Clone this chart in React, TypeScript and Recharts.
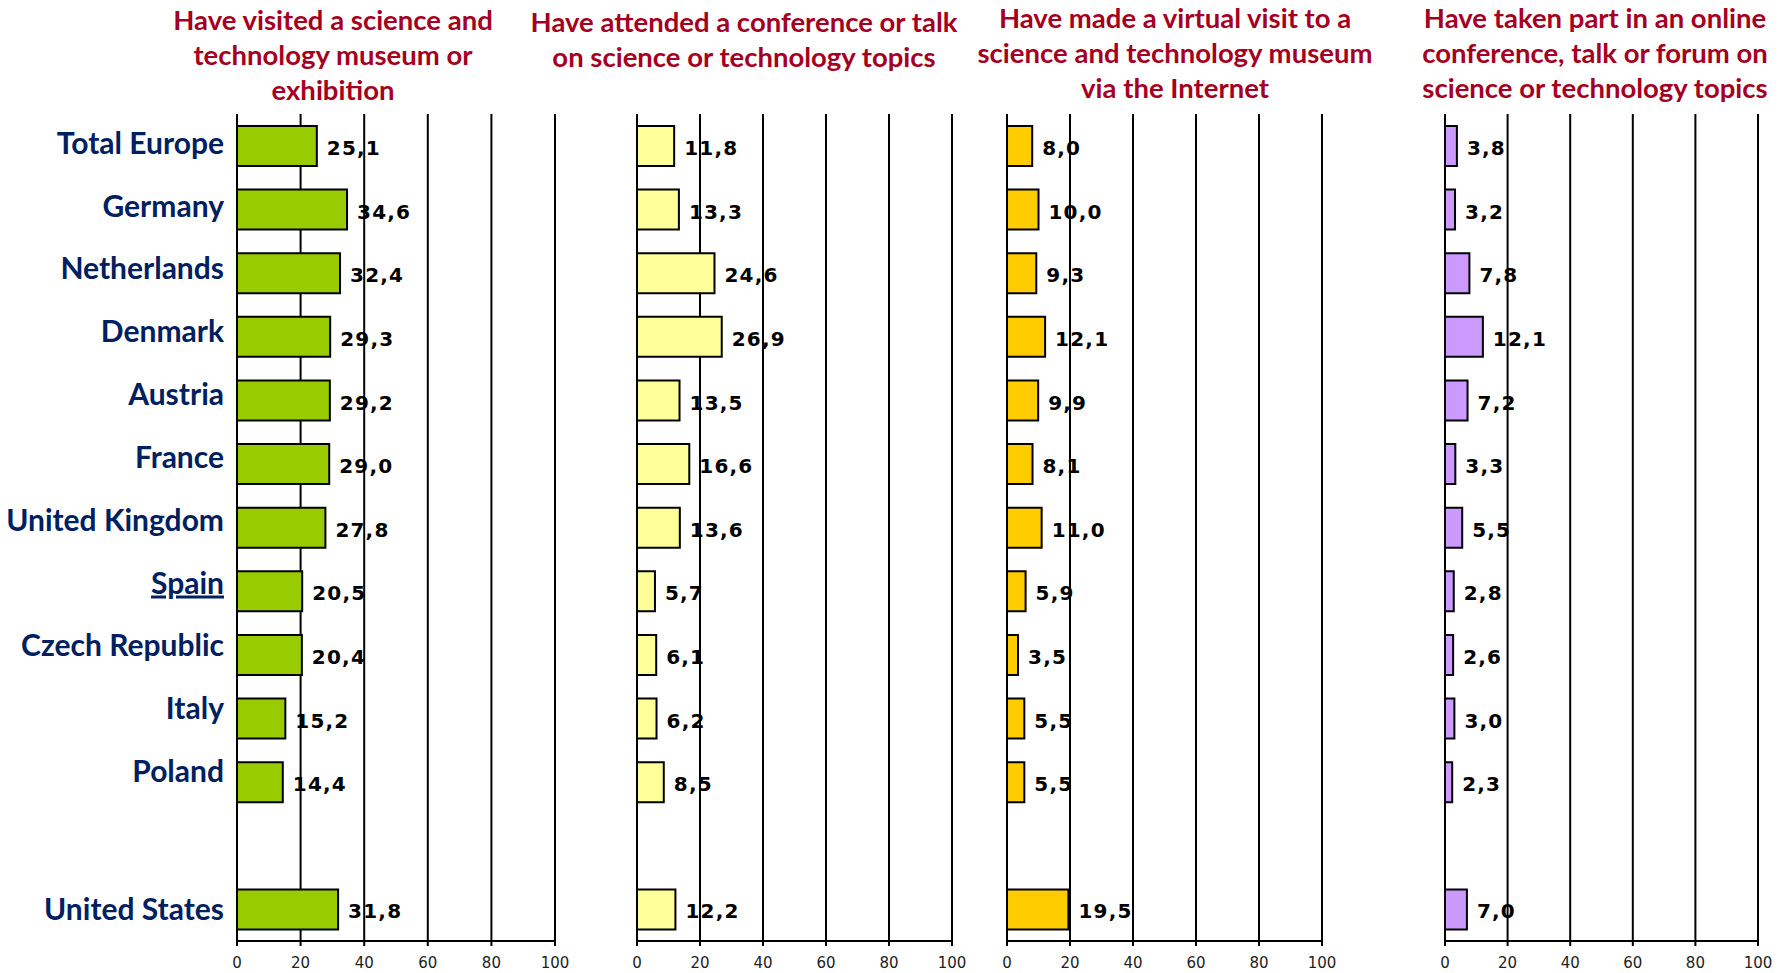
import React from 'react';
import { Bar, BarChart, CartesianGrid, LabelList, XAxis, YAxis } from 'recharts';

// rows top to bottom; the empty entry is the gap above United States
const countries = [
  'Total Europe',
  'Germany',
  'Netherlands',
  'Denmark',
  'Austria',
  'France',
  'United Kingdom',
  'Spain',
  'Czech Republic',
  'Italy',
  'Poland',
  '',
  'United States',
];

const visitedMuseum = [25.1, 34.6, 32.4, 29.3, 29.2, 29.0, 27.8, 20.5, 20.4, 15.2, 14.4, null, 31.8];
const attendedTalk = [11.8, 13.3, 24.6, 26.9, 13.5, 16.6, 13.6, 5.7, 6.1, 6.2, 8.5, null, 12.2];
const virtualVisit = [8.0, 10.0, 9.3, 12.1, 9.9, 8.1, 11.0, 5.9, 3.5, 5.5, 5.5, null, 19.5];
const onlineForum = [3.8, 3.2, 7.8, 12.1, 7.2, 3.3, 5.5, 2.8, 2.6, 3.0, 2.3, null, 7.0];

const xTicks = [0, 20, 40, 60, 80, 100];

const panels = [
  {
    title: ['Have visited a science and', 'technology museum or', 'exhibition'],
    values: visitedMuseum,
    color: '#99CC00',
    left: 0,
    width: 600,
    margin: { top: 114, right: 45, bottom: 2, left: 0 },
    titleX: 333,
    titleTop: 2,
    showNames: true,
  },
  {
    title: ['Have attended a conference or talk', 'on science or technology topics'],
    values: attendedTalk,
    color: '#FFFF99',
    left: 600,
    width: 400,
    margin: { top: 114, right: 48, bottom: 2, left: 37 },
    titleX: 744,
    titleTop: 4,
    showNames: false,
  },
  {
    title: ['Have made a virtual visit to a', 'science and technology museum', 'via the Internet'],
    values: virtualVisit,
    color: '#FFCC00',
    left: 1000,
    width: 370,
    margin: { top: 114, right: 48, bottom: 2, left: 7 },
    titleX: 1175,
    titleTop: 0,
    showNames: false,
  },
  {
    title: ['Have taken part in an online', 'conference, talk or forum on', 'science or technology topics'],
    values: onlineForum,
    color: '#CC99FF',
    left: 1400,
    width: 390,
    margin: { top: 114, right: 32, bottom: 2, left: 45 },
    titleX: 1595,
    titleTop: 0,
    showNames: false,
  },
];

const fmt = (v: any) => (v == null ? '' : Number(v).toFixed(1).replace('.', ','));

// the original's country names creep slightly upward row by row; US sits on its bar
function CountryTick(props: any) {
  const { x, y, payload, index } = props;
  const name = payload.value;
  const i = typeof index === 'number' ? index : payload.index ?? 0;
  const dy = name === 'United States' ? 11 : 8 - 0.8 * i;
  return (
    <text
      x={x}
      y={y}
      dy={dy}
      textAnchor="end"
      fill="#002060"
      fontFamily="Lato, sans-serif"
      fontWeight={700}
      fontSize={30}
      textDecoration={name === 'Spain' ? 'underline' : undefined}
    >
      {name}
    </text>
  );
}

export default function App() {
  return (
    <div
      style={{
        position: 'absolute',
        left: 0,
        top: 0,
        width: 1790,
        height: 973,
        background: '#fff',
      }}
    >
      {panels.map((p, i) => {
        const data = countries.map((country, k) => ({ country, value: p.values[k] }));
        return (
          <React.Fragment key={i}>
            <div
              style={{
                position: 'absolute',
                left: p.titleX - 260,
                top: p.titleTop,
                width: 520,
                textAlign: 'center',
                fontFamily: 'Lato, sans-serif',
                fontWeight: 700,
                fontSize: 27.5,
                lineHeight: '35px',
                color: '#A50021',
                whiteSpace: 'nowrap',
              }}
            >
              {p.title.map((line) => (
                <div key={line}>{line}</div>
              ))}
            </div>
            <div style={{ position: 'absolute', left: p.left, top: 0 }}>
              <BarChart
                width={p.width}
                height={973}
                data={data}
                layout="vertical"
                margin={p.margin}
              >
                <CartesianGrid
                  horizontal={false}
                  vertical={true}
                  stroke="#000"
                  strokeWidth={2}
                />
                <XAxis
                  type="number"
                  domain={[0, 100]}
                  ticks={xTicks}
                  interval={0}
                  height={30}
                  axisLine={{ stroke: '#000', strokeWidth: 2 }}
                  tickLine={{ stroke: '#000', strokeWidth: 2 }}
                  tickSize={5}
                  tickMargin={11}
                  tick={{ fill: '#222', fontSize: 15, fontFamily: 'DejaVu Sans, sans-serif' }}
                />
                <YAxis
                  type="category"
                  dataKey="country"
                  hide={!p.showNames}
                  width={237}
                  interval={0}
                  axisLine={{ stroke: '#000', strokeWidth: 2 }}
                  tickLine={false}
                  tickSize={0}
                  tickMargin={13}
                  tick={<CountryTick />}
                />
                <Bar
                  dataKey="value"
                  fill={p.color}
                  stroke="#000"
                  strokeWidth={2}
                  barSize={40}
                  isAnimationActive={false}
                >
                  <LabelList
                    dataKey="value"
                    position="right"
                    offset={10}
                    formatter={fmt}
                    fill="#000"
                    fontSize={20}
                    fontWeight={700}
                    letterSpacing={1.2}
                    dy={2}
                    fontFamily="DejaVu Sans, sans-serif"
                  />
                </Bar>
              </BarChart>
            </div>
          </React.Fragment>
        );
      })}
    </div>
  );
}
